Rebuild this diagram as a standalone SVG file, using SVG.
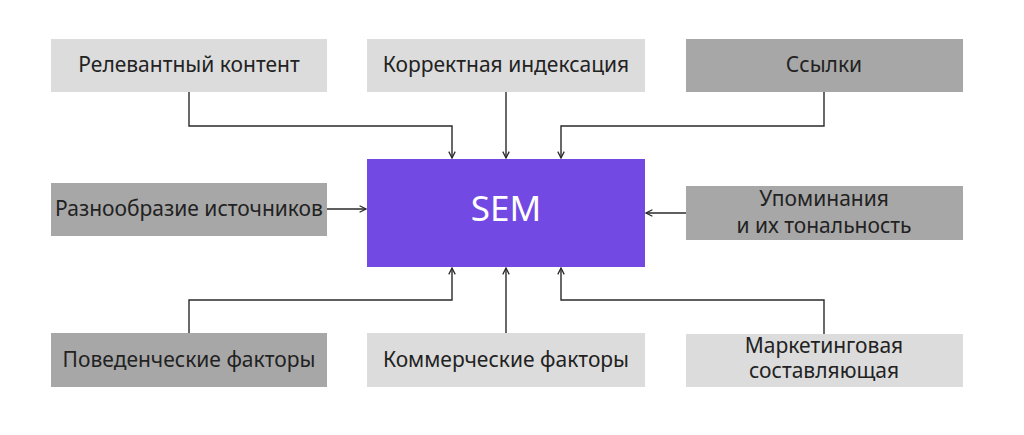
<svg xmlns="http://www.w3.org/2000/svg" width="1024" height="435" viewBox="0 0 1024 435">
<style>
.light{fill:#dcdcdc}
.dark{fill:#a7a7a7}
.t{font-family:"Noto Sans","Open Sans","Liberation Sans",sans-serif;font-size:21px;fill:#222;text-anchor:middle}
.sem{font-family:"Noto Sans","Open Sans","Liberation Sans",sans-serif;font-size:35px;fill:#fff;text-anchor:middle}
.c{fill:none;stroke:#2a2a2a;stroke-width:1.4}
</style>
<defs>
<marker id="a" viewBox="0 0 10 10" refX="9" refY="5" markerWidth="8" markerHeight="8" markerUnits="userSpaceOnUse" orient="auto">
<path d="M1,1 L9,5 L1,9" fill="none" stroke="#2a2a2a" stroke-width="1.6"/>
</marker>
</defs>
<rect width="1024" height="435" fill="#fff"/>
<g id="connectors">
<path class="c" d="M189,92 V126 H452 V158" marker-end="url(#a)"/>
<path class="c" d="M506,92 V158" marker-end="url(#a)"/>
<path class="c" d="M824,92 V126 H561 V158" marker-end="url(#a)"/>
<path class="c" d="M327,209 H366" marker-end="url(#a)"/>
<path class="c" d="M686,213 H646" marker-end="url(#a)"/>
<path class="c" d="M189,333 V300 H452 V268" marker-end="url(#a)"/>
<path class="c" d="M506,333 V268" marker-end="url(#a)"/>
<path class="c" d="M824,334 V300 H561 V268" marker-end="url(#a)"/>
</g>
<g id="n1"><rect class="light" x="51" y="39" width="276" height="53"/><text class="t" x="189" y="72">Релевантный контент</text></g>
<g id="n2"><rect class="light" x="367" y="39" width="278" height="53"/><text class="t" x="506" y="72">Корректная индексация</text></g>
<g id="n3"><rect class="dark" x="686" y="39" width="277" height="53"/><text class="t" x="824" y="72">Ссылки</text></g>
<g id="n4"><rect class="dark" x="51" y="183" width="276" height="53"/><text class="t" x="189" y="216">Разнообразие источников</text></g>
<g id="sem"><rect fill="#7349e3" x="367" y="159" width="278" height="108"/><text class="sem" x="506" y="221">SEM</text></g>
<g id="n6"><rect class="dark" x="686" y="186" width="277" height="54"/><text class="t" x="824" y="206">Упоминания</text><text class="t" x="824" y="233">и их тональность</text></g>
<g id="n7"><rect class="dark" x="51" y="333" width="276" height="54"/><text class="t" x="189" y="367">Поведенческие факторы</text></g>
<g id="n8"><rect class="light" x="367" y="333" width="278" height="54"/><text class="t" x="506" y="367">Коммерческие факторы</text></g>
<g id="n9"><rect class="light" x="686" y="334" width="277" height="53"/><text class="t" x="824" y="353">Маркетинговая</text><text class="t" x="824" y="378">составляющая</text></g>
</svg>
